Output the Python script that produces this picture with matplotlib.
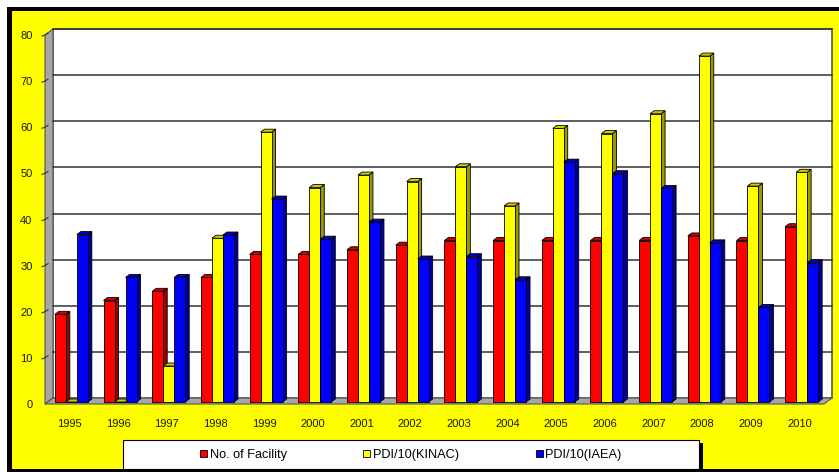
import matplotlib
matplotlib.use('Agg')
import matplotlib.pyplot as plt
from matplotlib.patches import Polygon, Rectangle, Patch

plt.rcParams['font.family'] = ['Liberation Sans', 'DejaVu Sans']

# ---------------- data ----------------
years = [str(y) for y in range(1995, 2011)]
facility = [19, 22, 24, 27, 32, 32, 33, 34, 35, 35, 35, 35, 35, 36, 35, 38]
kinac = [0, 0, 7.8, 35.5, 58.5, 46.5, 49.2, 47.8, 51, 42.5, 59.3, 58.2, 62.5, 75.0, 46.8, 49.8]
iaea = [36.3, 27, 27, 36.2, 44, 35.3, 39, 31, 31.5, 26.5, 52, 49.5, 46.3, 34.5, 20.5, 30.2]
series_names = ['No. of Facility', 'PDI/10(KINAC)', 'PDI/10(IAEA)']
yticks = list(range(0, 81, 10))

front_colors = ['#FF0000', '#FFFF00', '#0000FF']
side_colors = ['#990000', '#999900', '#000099']
top_colors = ['#CC0000', '#CCCC00', '#0000CC']

W, H = 839, 472
fig = plt.figure(figsize=(W / 100, H / 100), dpi=100)
fig.patch.set_facecolor('white')


def fx(x):
    return x / W


def fy(y):
    return 1 - y / H


def frect(x0, y0, x1, y1, color, z=0):
    fig.add_artist(Rectangle((fx(x0), fy(y1)), fx(x1) - fx(x0), fy(y0) - fy(y1),
                             transform=fig.transFigure, facecolor=color,
                             edgecolor='none', zorder=z))


# background & borders
frect(7, 7, W, H, '#FFFF00', 0)
frect(7, 7, W, 11, 'black', 1)
frect(7, 7, 12, H, 'black', 1)
frect(7, 469, W, H, 'black', 1)

# ---------------- axes (front plane) ----------------
ax = fig.add_axes([fx(45), fy(404), (824 - 45) / W, (404 - 35) / H])
ax.set_xlim(-0.5, len(years) - 0.5)
ax.set_ylim(0, 80)
ax.patch.set_visible(False)
for s in ax.spines.values():
    s.set_visible(False)

p0 = ax.transData.transform((0, 0))
p1 = ax.transData.transform((1, 1))
ux, uy = p1[0] - p0[0], p1[1] - p0[1]

xl, xr = -0.5, len(years) - 0.5
Dx, Dy = 8 / ux, 6 / uy

# back wall
ax.add_patch(Rectangle((xl + Dx, Dy), xr - xl, 80, facecolor='white',
                       edgecolor='#555555', lw=1.2, zorder=0.5, clip_on=False))
# left wall
ax.add_patch(Polygon([(xl, 0), (xl, 80), (xl + Dx, 80 + Dy), (xl + Dx, Dy)],
                     closed=True, facecolor='#A6A6A6', edgecolor='#555555',
                     lw=0.8, zorder=0.6, clip_on=False))
# floor
ax.add_patch(Polygon([(xl, 0), (xr, 0), (xr + Dx, Dy), (xl + Dx, Dy)],
                     closed=True, facecolor='#A6A6A6', edgecolor='#555555',
                     lw=0.8, zorder=0.6, clip_on=False))
# gridlines on back wall
for t in yticks[1:]:
    ax.plot([xl + Dx, xr + Dx], [t + Dy, t + Dy], color='#333333', lw=1.1,
            zorder=0.7, clip_on=False)
    ax.plot([xl - 3 / ux, xl, xl + 3 / ux], [t - 1 / uy, t, t + 2 / uy],
            color='#333333', lw=0.8, zorder=0.8, clip_on=False)

# ---------------- bars ----------------
w = 0.226
bx, by = 2 / ux, 2 / uy
dx, dy = 4 / ux, 3 / uy
all_series = [facility, kinac, iaea]
for j, vals in enumerate(all_series):
    xs = [i + (j - 1.5) * w + bx for i in range(len(years))]
    bars = ax.bar(xs, vals, width=w, bottom=by, align='edge',
                  color=front_colors[j], edgecolor='black', lw=0.6,
                  clip_on=False)
    for i, (bar, x0, h) in enumerate(zip(bars, xs, vals)):
        base = 2 + (i * 3 + j) * 0.001
        bar.set_zorder(base + 0.0003)
        side = Polygon([(x0 + w, by), (x0 + w, by + h), (x0 + w + dx, by + h + dy),
                        (x0 + w + dx, by + dy)], closed=True,
                       facecolor=side_colors[j], edgecolor='black', lw=0.6,
                       zorder=base + 0.0001, clip_on=False)
        top = Polygon([(x0, by + h), (x0 + w, by + h), (x0 + w + dx, by + h + dy),
                       (x0 + dx, by + h + dy)], closed=True,
                      facecolor=top_colors[j], edgecolor='black', lw=0.6,
                      zorder=base + 0.0002, clip_on=False)
        ax.add_patch(side)
        ax.add_patch(top)

# ticks
ax.set_yticks(yticks)
ax.set_yticklabels([str(t) for t in yticks], fontsize=8, color='#1a1a00')
ax.tick_params(axis='y', length=0, pad=9)
ax.set_xticks(range(len(years)))
ax.set_xticklabels(years, fontsize=8, color='#1a1a00')
ax.tick_params(axis='x', length=0, pad=11)

# ---------------- legend ----------------
frect(699, 443, 703, 469, 'black', 2)
fig.add_artist(Rectangle((fx(123), fy(469)), fx(699) - fx(123), fy(440) - fy(469),
                         transform=fig.transFigure, facecolor='white',
                         edgecolor='black', lw=0.8, zorder=3))
handles = [Patch(facecolor=c, edgecolor='black', lw=0.6) for c in front_colors]
leg = fig.legend(handles, series_names, loc='center',
                 bbox_to_anchor=(fx(411), fy(455)), ncol=3, frameon=False,
                 fontsize=9.2, handlelength=0.55, handleheight=0.55,
                 handletextpad=0.2, columnspacing=6.0, borderpad=0)
leg.set_zorder(4)

fig.savefig('out.png', dpi=100, facecolor=fig.get_facecolor())
